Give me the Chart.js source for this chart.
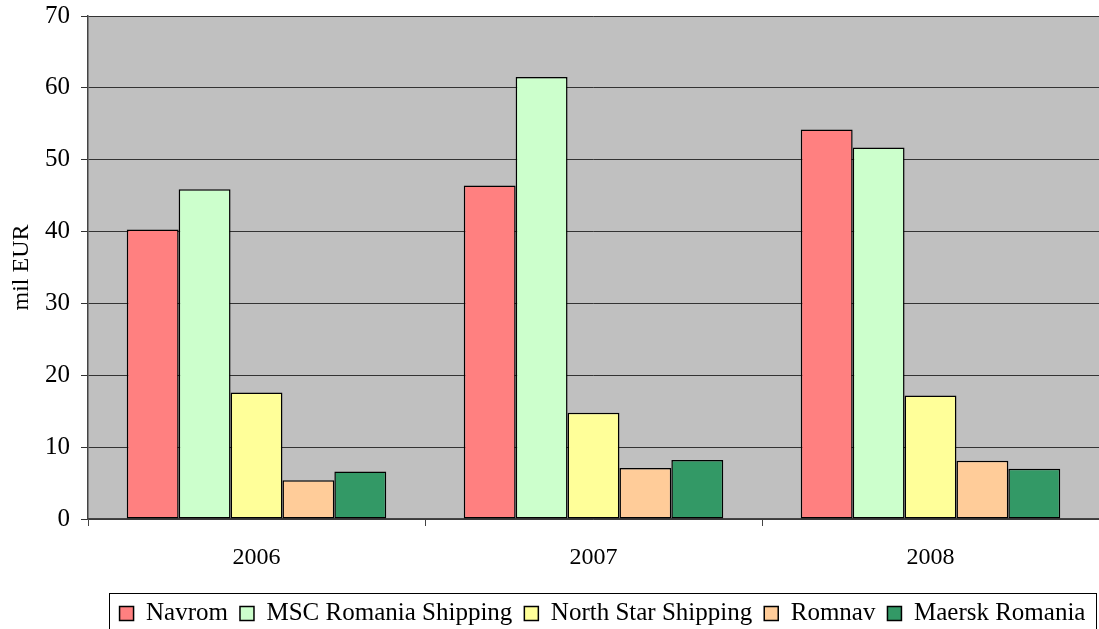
<!DOCTYPE html>
<html>
<head>
<meta charset="utf-8">
<script src="https://cdn.jsdelivr.net/npm/chart.js@4.4.0/dist/chart.umd.min.js"></script>
<style>
  html, body { margin: 0; padding: 0; background: #fff; }
  #wrap { width: 1099px; height: 629px; }
</style>
</head>
<body>
<div id="wrap"><canvas id="chart" width="1099" height="629"></canvas></div>
<script>
// data
const years = ['2006', '2007', '2008'];
const navrom = [40.3, 46.4, 54.2];
const mscRomania = [45.9, 61.5, 51.7];
const northStar = [17.6, 14.8, 17.2];
const romnav = [5.4, 7.1, 8.1];
const maersk = [6.6, 8.2, 7.0];

const FONT = "'Liberation Serif', 'DejaVu Serif', serif";
const LEG_PAD = 12;

// grey plot background
const plotBg = {
    id: 'plotBg',
    beforeDraw(chart) {
        const a = chart.chartArea;
        const ctx = chart.ctx;
        ctx.save();
        ctx.fillStyle = '#c0c0c0';
        ctx.fillRect(a.left, a.top, a.right - a.left, a.bottom - a.top);
        ctx.restore();
    }
};

// nudge the legend under the plot area, and frame it
const legendFrame = {
    id: 'legendFrame',
    afterLayout(chart) {
        const lg = chart.legend;
        lg.top += 7; lg.bottom += 7;
        lg.left += 53; lg.right += 53;
    },
    afterDraw(chart) {
        const lg = chart.legend;
        const lw = lg.lineWidths[0];
        const start = (lg.left + LEG_PAD + lg.right - lw) / 2;
        const left = Math.round(start - 11);
        const right = Math.round(start + lw - LEG_PAD + 11);
        const top = Math.round(lg.top + LEG_PAD - 8);
        const ctx = chart.ctx;
        ctx.save();
        ctx.strokeStyle = '#000';
        ctx.lineWidth = 1;
        ctx.strokeRect(left + 0.5, top + 0.5, right - left, chart.height - top + 5);
        ctx.restore();
    }
};

function ds(label, data, color) {
    return {
        label: label,
        data: data,
        backgroundColor: color,
        borderColor: '#000',
        borderWidth: 1.5,
        borderSkipped: false,
        barPercentage: 1,
        categoryPercentage: 0.77
    };
}

new Chart(document.getElementById('chart'), {
    type: 'bar',
    data: {
        labels: years,
        datasets: [
            ds('Navrom', navrom, '#ff8080'),
            ds('MSC Romania Shipping', mscRomania, '#ccffcc'),
            ds('North Star Shipping', northStar, '#ffff99'),
            ds('Romnav', romnav, '#ffcc99'),
            ds('Maersk Romania', maersk, '#339966')
        ]
    },
    options: {
        responsive: false,
        animation: false,
        layout: { padding: { top: 16, right: 0, left: 0, bottom: 0 } },
        plugins: {
            tooltip: { enabled: false },
            legend: {
                position: 'bottom',
                labels: {
                    font: { family: FONT, size: 25 },
                    color: '#000',
                    boxWidth: 14,
                    boxHeight: 14,
                    padding: LEG_PAD
                }
            }
        },
        scales: {
            x: {
                offset: true,
                grid: {
                    offset: true,
                    drawOnChartArea: false,
                    color: '#444',
                    tickLength: 7,
                    tickWidth: 1
                },
                border: { color: '#444', width: 1.5 },
                ticks: {
                    font: { family: FONT, size: 24 },
                    color: '#000',
                    padding: 17
                },
                afterFit(scale) { scale.height = 63; }
            },
            y: {
                min: 0,
                max: 70,
                ticks: {
                    stepSize: 10,
                    font: { family: FONT, size: 25, lineHeight: 0.4 },
                    color: '#000',
                    padding: 11
                },
                grid: {
                    color: '#333',
                    lineWidth: 1,
                    tickLength: 7
                },
                border: { color: '#444', width: 1.5 },
                title: {
                    display: true,
                    text: 'mil EUR',
                    font: { family: FONT, size: 24 },
                    color: '#000',
                    padding: { top: 7, bottom: 0 }
                },
                afterFit(scale) { scale.width = 88; }
            }
        }
    },
    plugins: [plotBg, legendFrame]
});
</script>
</body>
</html>
